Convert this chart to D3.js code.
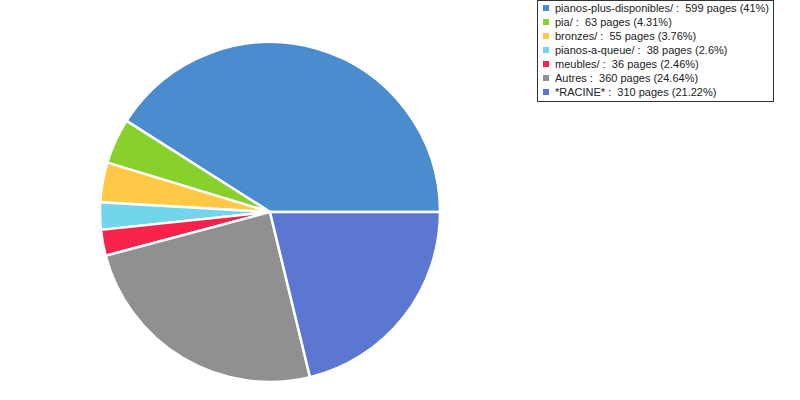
<!DOCTYPE html>
<html><head><meta charset="utf-8">
<script src="https://cdn.jsdelivr.net/npm/d3@7"></script>
<style>body{margin:0;background:#fff}svg{display:block}text{white-space:pre}</style>
</head><body>
<script>
const categories = ["pianos-plus-disponibles/", "pia/", "bronzes/", "pianos-a-queue/", "meubles/", "Autres", "*RACINE*"];
const values = [599, 63, 55, 38, 36, 360, 310];
const percents = ["41%", "4.31%", "3.76%", "2.6%", "2.46%", "24.64%", "21.22%"];
const colors = ["#4a8ccd", "#88d12c", "#ffc945", "#72d5ec", "#f7234c", "#8f9190", "#5c77cf"];

const W = 800, H = 400;
const svg = d3.select("body").append("svg").attr("width", W).attr("height", H);

const data = categories.map((c, i) => ({c, v: values[i], p: percents[i], col: colors[i]}));
const pie = d3.pie().value(d => d.v).sort(null)
  .startAngle(Math.PI / 2).endAngle(Math.PI / 2 - 2 * Math.PI);
const arc = d3.arc().innerRadius(0).outerRadius(170);

const g = svg.append("g").attr("transform", "translate(270,212)");
g.selectAll("path").data(pie(data)).join("path")
  .attr("d", arc).attr("fill", d => d.data.col)
  .attr("stroke", "#fff").attr("stroke-width", 2.5).attr("stroke-linejoin", "round");

const lg = svg.append("g");
lg.append("rect").attr("x", 537.5).attr("y", 0.5).attr("width", 236).attr("height", 101)
  .attr("fill", "#fff").attr("stroke", "#333").attr("stroke-width", 1);
const y = d3.scaleBand().domain(categories).range([1, 99]);
const rows = lg.selectAll("g.row").data(data).join("g").attr("class", "row")
  .attr("transform", d => `translate(0,${y(d.c) + y.bandwidth() / 2})`);
rows.append("rect").attr("x", 543).attr("y", -3).attr("width", 6).attr("height", 6).attr("fill", d => d.col);
rows.append("text").attr("x", 555).attr("y", 4)
  .attr("font-family", "Liberation Sans, Arial, sans-serif").attr("font-size", 11).attr("fill", "#222")
  .text(d => `${d.c} :  ${d.v} pages (${d.p})`);
</script>
</body></html>
